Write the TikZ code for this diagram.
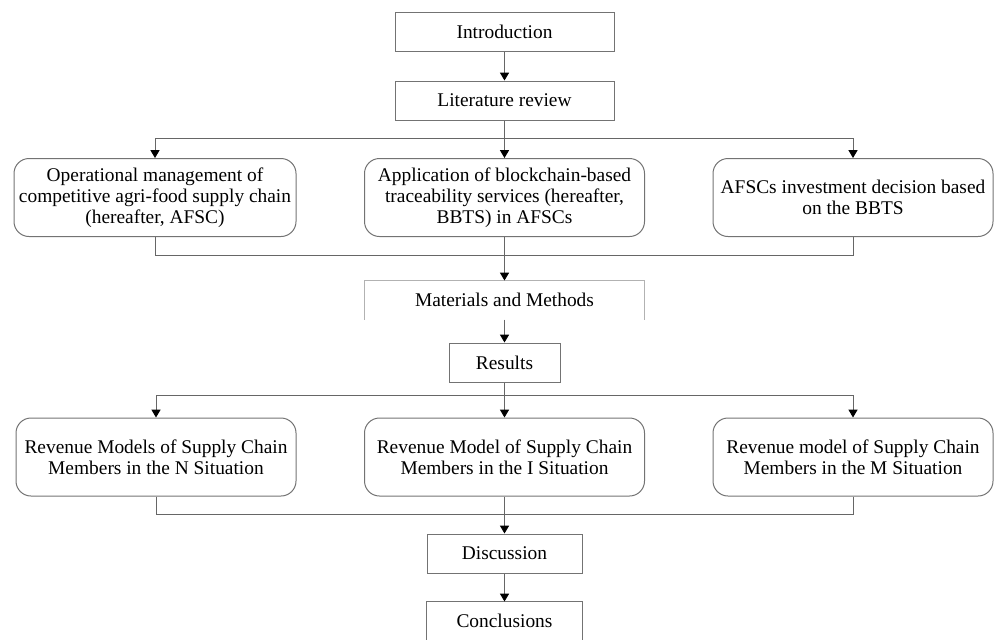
\documentclass[tikz,border=0pt]{standalone}
\usepackage{fontspec}
\setmainfont{Liberation Serif}
\usetikzlibrary{arrows.meta}
\tikzset{
  plainbox/.style={draw=black!55, line width=0.5pt, inner sep=0pt, align=center,
    font=\fontsize{9.7}{10.5}\selectfont},
  roundbox/.style={plainbox, rounded corners=7.5pt, minimum width=140pt, minimum height=39pt},
  link/.style={draw=black!60, line width=0.5pt},
  arr/.style={link, -{Triangle[length=4pt,width=4.6pt,color=black]}}
}
\begin{document}
\begin{tikzpicture}[x=0.5pt,y=-0.5pt]
	\useasboundingbox (0,0) rectangle (994,639);
	\clip (0,0) rectangle (994,639);
	% top part
	\node[plainbox, minimum width=109.5pt, minimum height=19.5pt] (intro) at (504.5,31.5) {Introduction};
	\node[plainbox, minimum width=109.5pt, minimum height=19.5pt] (litrev) at (504.5,100.5) {Literature review};
	\node[roundbox, minimum width=141pt] (opman) at (155,197.5) {Operational management of\\competitive agri-food supply chain\\(hereafter, AFSC)};
	\node[roundbox] (bbts) at (504.5,197.5) {Application of blockchain-based\\traceability services (hereafter,\\BBTS) in AFSCs};
	\node[roundbox] (invest) at (853,197.5) {AFSCs investment decision based\\on the BBTS};
	\node[plainbox, draw=none, minimum width=139.5pt, minimum height=19pt] (matmeth) at (504.5,300) {Materials and Methods};
	\draw[draw=black!30, line width=0.5pt] (matmeth.south west) -- (matmeth.north west) -- (matmeth.north east) -- (matmeth.south east);
	\node[plainbox, minimum width=55.5pt, minimum height=19.5pt] (results) at (504.5,362.5) {Results};
	% bottom part
	\node[roundbox] (revn) at (156,457) {Revenue Models of Supply Chain\\Members in the N Situation};
	\node[roundbox] (revi) at (504.5,457) {Revenue Model of Supply Chain\\Members in the I Situation};
	\node[roundbox] (revm) at (853,457) {Revenue model of Supply Chain\\Members in the M Situation};
	\node[plainbox, minimum width=77.5pt, minimum height=19.5pt] (discuss) at (504.5,553.5) {Discussion};
	\node[plainbox, draw=none, minimum width=77.5pt, minimum height=19pt] (concl) at (504.5,621) {Conclusions};
	\draw[draw=black!55, line width=0.5pt] (concl.south west) -- (concl.north west) -- (concl.north east) -- (concl.south east);
	% connectors
	\coordinate (split1) at (504.5,138);
	\coordinate (merge1) at (504.5,255);
	\coordinate (split2) at (504.5,395);
	\coordinate (merge2) at (504.5,514);
	\draw[arr] (intro) -- (litrev);
	\draw[link] (litrev) -- (split1);
	\draw[arr] (split1) -| (opman);
	\draw[arr] (split1) -- (bbts);
	\draw[arr] (split1) -| (invest);
	\draw[link] (opman) |- (merge1);
	\draw[link] (invest) |- (merge1);
	\draw[arr] (bbts) -- (matmeth.north);
	\draw[arr] (matmeth.south) -- (results);
	\draw[link] (results) -- (split2);
	\draw[arr] (split2) -| (revn);
	\draw[arr] (split2) -- (revi);
	\draw[arr] (split2) -| (revm);
	\draw[link] (revn) |- (merge2);
	\draw[link] (revm) |- (merge2);
	\draw[arr] (revi) -- (discuss);
	\draw[arr] (discuss) -- (concl.north);
\end{tikzpicture}
\end{document}
